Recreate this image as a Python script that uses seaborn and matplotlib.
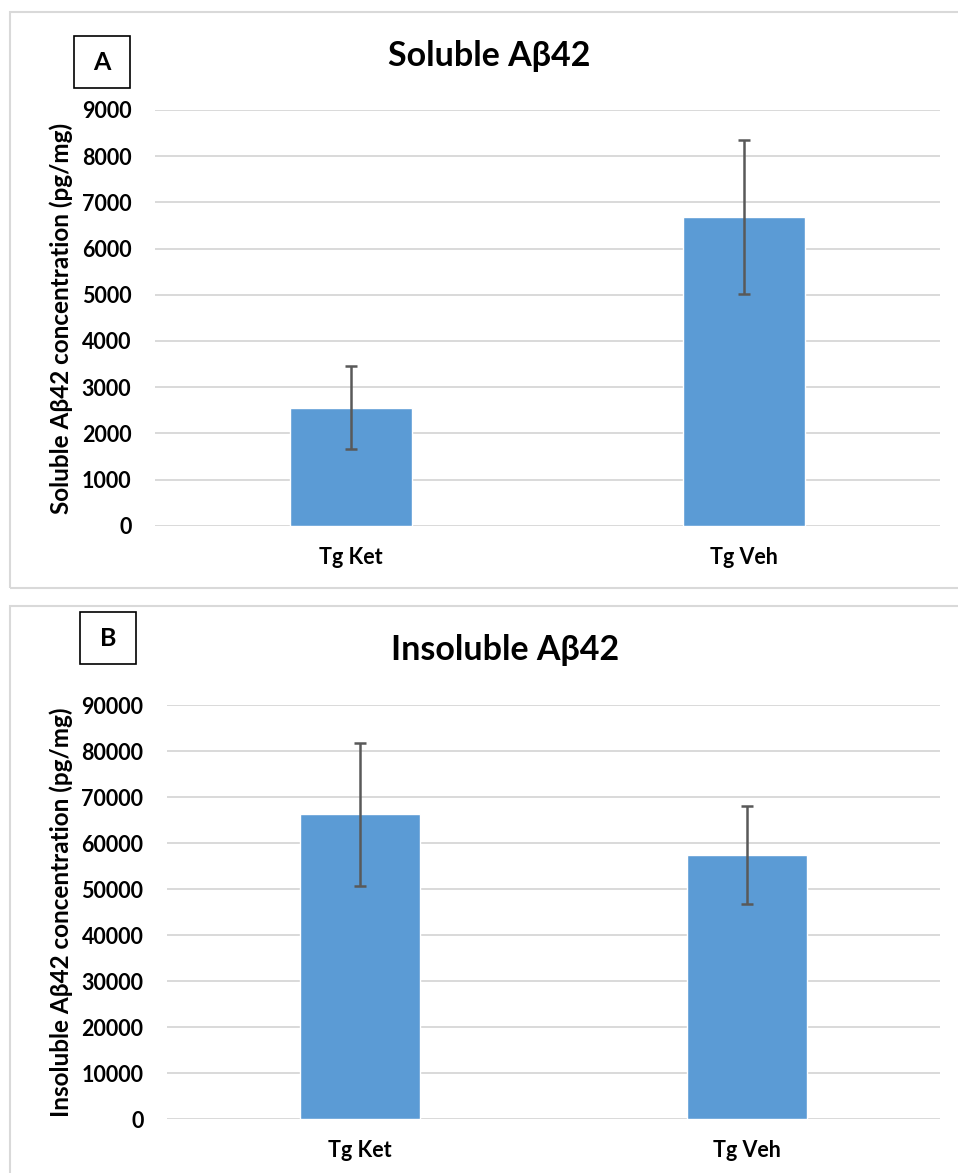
import matplotlib
matplotlib.use("Agg")
import matplotlib.pyplot as plt
import seaborn as sns
import pandas as pd
from matplotlib.patches import Rectangle

# data
groups = ["Tg Ket", "Tg Veh"]
soluble_mean = [2555, 6680]
soluble_err = [895, 1660]
insoluble_mean = [66200, 57400]
insoluble_err = [15500, 10700]

sns.set_theme(style="white")
plt.rcParams["font.family"] = ["Lato", "DejaVu Sans"]
plt.rcParams["font.weight"] = "bold"
plt.rcParams["text.color"] = "black"
plt.rcParams["xtick.color"] = "black"
plt.rcParams["ytick.color"] = "black"

BAR = "#5b9bd5"
GRID = "#d9d9d9"
ERR = "#595959"

fig = plt.figure(figsize=(9.58, 11.73), dpi=100)
W, H = 958, 1173


def px(x, y):
    # pixel coords (top-left origin) -> figure fraction
    return x / W, 1 - y / H


# panel frames
for top, bottom in [(12, 588), (606, 1185)]:
    fig.add_artist(Rectangle(px(10, bottom), 960 / W, (bottom - top) / H,
                             transform=fig.transFigure, fill=False,
                             edgecolor=GRID, linewidth=1.5))


def panel(rect, means, errs, ymax, title, title_xy, ylabel, ylabel_xy, letter, box):
    ax = fig.add_axes(rect)
    df = pd.DataFrame({"group": groups, "value": means})
    sns.barplot(data=df, x="group", y="value", color=BAR, width=0.31,
                saturation=1, errorbar=None, ax=ax, zorder=2)
    ax.errorbar(range(len(groups)), means, yerr=errs, fmt="none", ecolor=ERR,
                elinewidth=1.8, capsize=4.5, capthick=1.8, zorder=3)
    ax.set_xlim(-0.5, 1.5)
    ax.set_ylim(0, ymax)
    ax.set_yticks(range(0, ymax + 1, ymax // 9))
    ax.grid(axis="y", color=GRID, linewidth=1.4, zorder=0)
    ax.set_axisbelow(True)
    for s in ax.spines.values():
        s.set_visible(False)
    ax.tick_params(axis="y", length=0, pad=17, labelsize=15.5, labelcolor="black")
    ax.tick_params(axis="x", length=0, pad=15, labelsize=15.5, labelcolor="black")
    for lab in ax.get_xticklabels() + ax.get_yticklabels():
        lab.set_fontweight("bold")
    ax.set_xlabel("")
    ax.set_ylabel("")
    fig.text(*px(*title_xy), title, ha="center", va="center",
             fontsize=24.5, fontweight="bold")
    fig.text(*px(*ylabel_xy), ylabel, ha="center", va="center", rotation=90,
             fontsize=17.5, fontweight="bold")
    bx0, by0, bx1, by1 = box
    fig.add_artist(Rectangle(px(bx0, by1), (bx1 - bx0) / W, (by1 - by0) / H,
                             transform=fig.transFigure, fill=False,
                             edgecolor="black", linewidth=1.2))
    fig.text(*px((bx0 + bx1) / 2, (by0 + by1) / 2), letter, ha="center",
             va="center", fontsize=18, fontweight="bold")
    return ax


panel([155 / W, 1 - 525.7 / H, 785 / W, 415.7 / H], soluble_mean, soluble_err,
      9000, "Soluble A\u03b242", (489, 56),
      "Soluble A\u03b242 concentration (pg/mg)", (61, 318), "A", (74, 36, 130, 88))

panel([167 / W, 1 - 1119 / H, 773 / W, 414 / H], insoluble_mean, insoluble_err,
      90000, "Insoluble A\u03b242", (505, 650),
      "Insoluble A\u03b242 concentration (pg/mg)", (61, 912), "B", (80, 612, 136, 664))

fig.savefig("out.png", dpi=100)
